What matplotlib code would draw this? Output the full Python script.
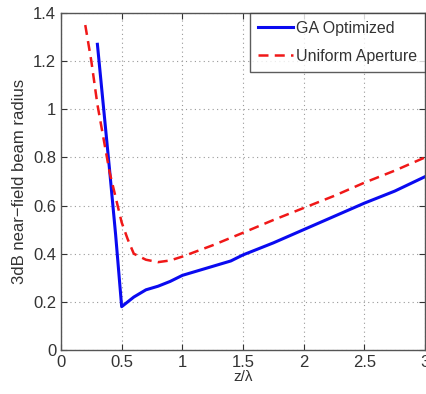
import matplotlib
matplotlib.use("Agg")
import matplotlib.pyplot as plt

plt.rcParams['font.family'] = ['Liberation Sans', 'DejaVu Sans']

ga_x = [0.3, 0.4, 0.45, 0.5, 0.6, 0.7, 0.8, 0.9, 1.0, 1.2, 1.4, 1.5, 1.75, 2.0, 2.25, 2.5, 2.75, 3.0]
ga_y = [1.27, 0.75, 0.48, 0.18, 0.22, 0.25, 0.265, 0.285, 0.31, 0.34, 0.37, 0.395, 0.445, 0.50, 0.555, 0.61, 0.66, 0.72]

uni_x = [0.2, 0.25, 0.3, 0.4, 0.5, 0.55, 0.6, 0.7, 0.8, 0.9, 1.0, 1.25, 1.5, 1.75, 2.0, 2.25, 2.5, 2.75, 3.0]
uni_y = [1.35, 1.2, 1.02, 0.74, 0.53, 0.46, 0.40, 0.375, 0.365, 0.372, 0.388, 0.435, 0.487, 0.54, 0.59, 0.64, 0.695, 0.745, 0.80]

xticks = [0, 0.5, 1, 1.5, 2, 2.5, 3]
xticklabels = ['0', '0.5', '1', '1.5', '2', '2.5', '3']
yticks = [0, 0.2, 0.4, 0.6, 0.8, 1.0, 1.2, 1.4]
yticklabels = ['0', '0.2', '0.4', '0.6', '0.8', '1', '1.2', '1.4']

fig = plt.figure(figsize=(4.27, 3.94), dpi=100)
ax = fig.add_axes([61/427, 44/394, 364/427, 337/394])

ax.plot(ga_x, ga_y, color='#0a0af0', lw=2.2, label='GA Optimized')
ax.plot(uni_x, uni_y, color='#f01818', lw=1.8, ls=(0, (4, 2.5)), label='Uniform Aperture')

ax.set_xlim(0, 3)
ax.set_ylim(0, 1.4)
ax.set_xticks(xticks)
ax.set_xticklabels(xticklabels)
ax.set_yticks(yticks)
ax.set_yticklabels(yticklabels)
ax.tick_params(direction='in', length=4, labelsize=12, colors='#333333', top=True, right=True)
ax.grid(True, ls=(0, (1, 3)), color='#999999', lw=0.8)
for s in ax.spines.values():
    s.set_color('#555555')
    s.set_linewidth(1.0)

ax.set_xlabel('z/λ', fontsize=11, color='#333333', labelpad=0)
ax.set_ylabel('3dB near\u2212field beam radius', fontsize=12, color='#333333', labelpad=4)

leg = ax.legend(loc='upper right', fontsize=11.5, frameon=True, fancybox=False,
                handlelength=2.2, handletextpad=0.2, borderaxespad=0.0,
                labelspacing=0.8, borderpad=0.5)
leg.get_frame().set_edgecolor('#333333')
leg.get_frame().set_linewidth(1.0)
for t in leg.get_texts():
    t.set_color('#333333')

fig.savefig('out.png', dpi=100)
